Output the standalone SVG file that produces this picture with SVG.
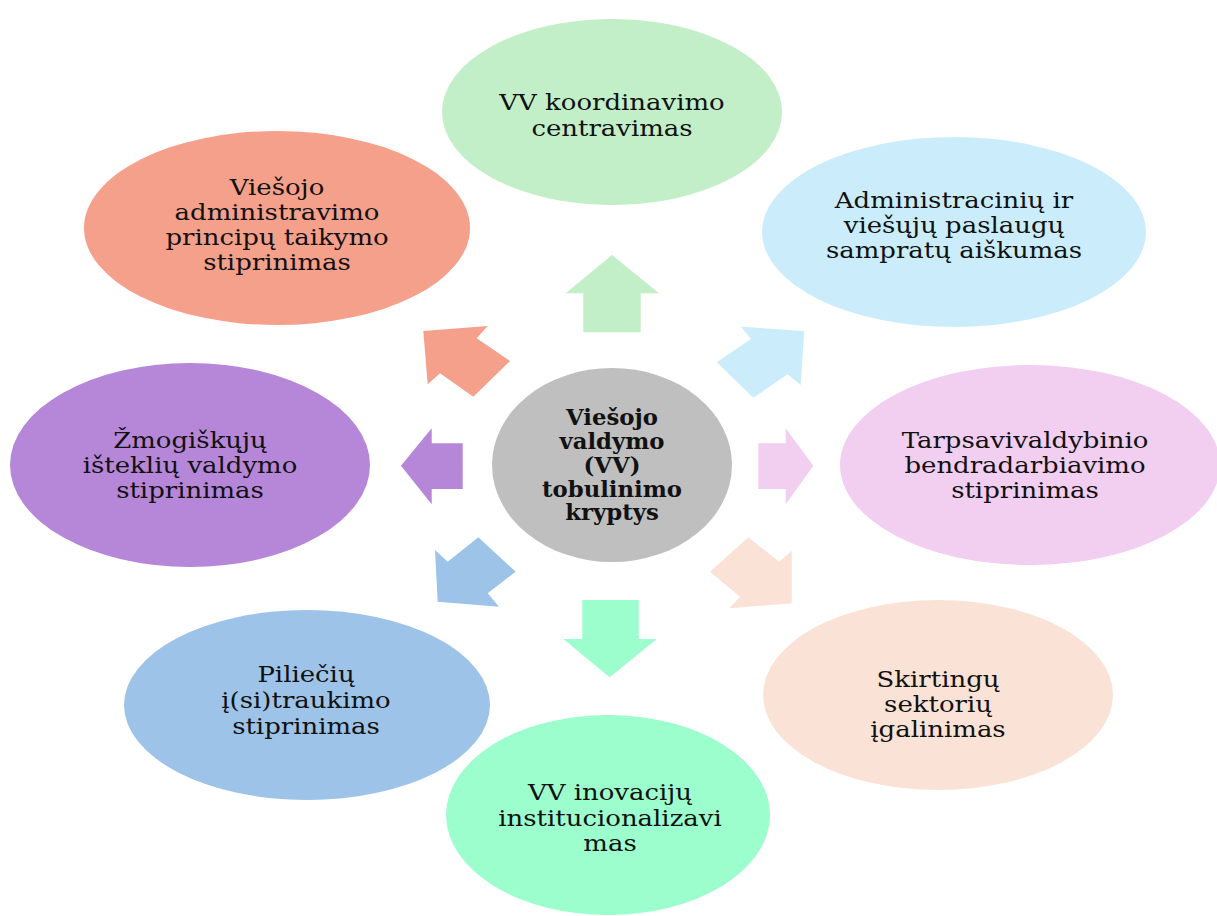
<svg xmlns="http://www.w3.org/2000/svg" width="1217" height="916" viewBox="0 0 1217 916">
<style>
text{font-family:"DejaVu Serif","Liberation Serif",serif;font-size:22px;fill:#111;text-anchor:middle}
.b{font-weight:bold;font-size:21.5px}
</style>
<rect width="1217" height="916" fill="#fff"/>
<g id="connectors">
<polygon fill="#C2EFC8" points="612,255 659,293.3 640.7,293.3 640.7,332.3 583.3,332.3 583.3,293.3 565.7,293.3"/>
<polygon fill="#9CFDCD" points="609.7,677.3 656.7,639 638.7,639 638.7,600 582.3,600 582.3,639 563.3,639"/>
<polygon fill="#B686D9" points="401,465.7 431.7,428.3 431.7,443.3 462.7,443.3 462.7,489 431.7,489 431.7,504.3"/>
<polygon fill="#F2CEF0" points="813.3,465.7 785.7,428.3 785.7,443.3 758.3,443.3 758.3,489 785.7,489 785.7,504.3"/>
<polygon fill="#F5A08B" points="423.3,331 487.7,326 476.7,338.3 510,361 473.3,396.7 440,373.3 427.7,384.3"/>
<polygon fill="#CBEDFB" points="804.3,331 741,326.7 751,339 716.7,362.3 753.3,397.7 787.7,374.3 800.7,385"/>
<polygon fill="#9DC3E8" points="437.7,601.7 499,606.7 487.7,593.3 515.7,571.7 478.3,537.3 447.7,561.7 435,550"/>
<polygon fill="#FBE2D6" points="791.7,603.3 729.3,608.3 740,596.7 710,571.7 748.3,537.3 779.3,561.7 791.7,550.7"/>
</g>
<g id="n-top">
<ellipse cx="612" cy="112" rx="170" ry="93" fill="#C2EFC8"/>
<g transform="translate(612,0) scale(1.18,1)">
<text x="0" y="110">VV koordinavimo</text>
<text x="0" y="136">centravimas</text>
</g>
</g>
<g id="n-topleft">
<ellipse cx="277" cy="228" rx="193" ry="97" fill="#F5A08B"/>
<g transform="translate(277,0) scale(1.18,1)">
<text x="0" y="195">Viešojo</text>
<text x="0" y="220">administravimo</text>
<text x="0" y="245">principų taikymo</text>
<text x="0" y="270">stiprinimas</text>
</g>
</g>
<g id="n-topright">
<ellipse cx="954" cy="232" rx="192" ry="95" fill="#CBEDFB"/>
<g transform="translate(954,0) scale(1.18,1)">
<text x="0" y="208">Administracinių ir</text>
<text x="0" y="233">viešųjų paslaugų</text>
<text x="0" y="258">sampratų aiškumas</text>
</g>
</g>
<g id="n-left">
<ellipse cx="190" cy="465" rx="180" ry="102" fill="#B686D9"/>
<g transform="translate(190,0) scale(1.18,1)">
<text x="0" y="448">Žmogiškųjų</text>
<text x="0" y="473">išteklių valdymo</text>
<text x="0" y="498">stiprinimas</text>
</g>
</g>
<g id="n-right">
<ellipse cx="1030" cy="465" rx="190" ry="100" fill="#F2CEF0"/>
<g transform="translate(1025,0) scale(1.18,1)">
<text x="0" y="448">Tarpsavivaldybinio</text>
<text x="0" y="473">bendradarbiavimo</text>
<text x="0" y="498">stiprinimas</text>
</g>
</g>
<g id="n-bottomleft">
<ellipse cx="307" cy="705" rx="183" ry="95" fill="#9DC3E8"/>
<g transform="translate(306,0) scale(1.18,1)">
<text x="0" y="682">Piliečių</text>
<text x="0" y="708">į(si)traukimo</text>
<text x="0" y="734">stiprinimas</text>
</g>
</g>
<g id="n-bottom">
<ellipse cx="608" cy="815" rx="162" ry="100" fill="#9CFDCD"/>
<g transform="translate(610,0) scale(1.18,1)">
<text x="0" y="800">VV inovacijų</text>
<text x="0" y="826">institucionalizavi</text>
<text x="0" y="851">mas</text>
</g>
</g>
<g id="n-bottomright">
<ellipse cx="938" cy="695" rx="175" ry="95" fill="#FBE2D6"/>
<g transform="translate(938,0) scale(1.18,1)">
<text x="0" y="687">Skirtingų</text>
<text x="0" y="712">sektorių</text>
<text x="0" y="737">įgalinimas</text>
</g>
</g>
<g id="n-center">
<ellipse cx="612" cy="465" rx="120" ry="97" fill="#BFBFBF"/>
<g transform="translate(612,0) scale(1.06,1)">
<text class="b" x="0" y="425">Viešojo</text>
<text class="b" x="0" y="449">valdymo</text>
<text class="b" x="0" y="473">(VV)</text>
<text class="b" x="0" y="497">tobulinimo</text>
<text class="b" x="0" y="520">kryptys</text>
</g>
</g>
</svg>
